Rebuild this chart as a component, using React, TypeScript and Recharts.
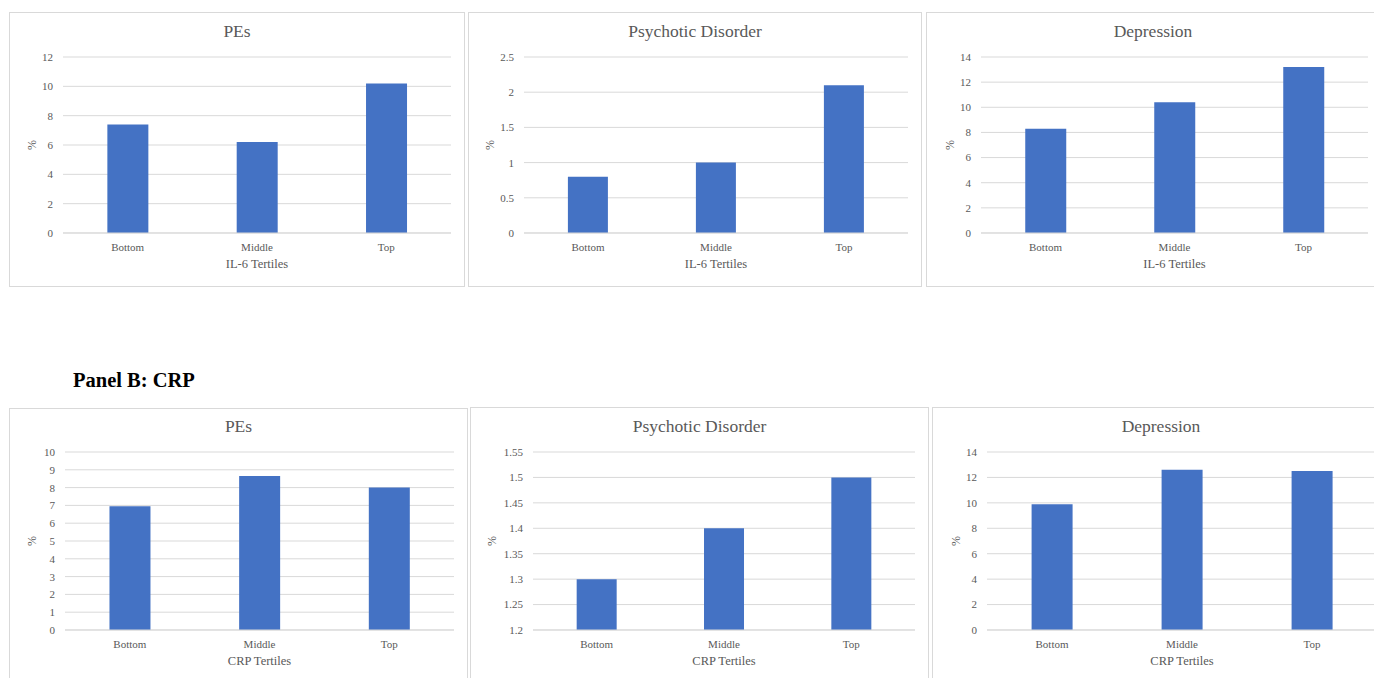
import { BarChart, Bar, XAxis, YAxis, CartesianGrid, Label } from 'recharts'

const tertiles = ['Bottom', 'Middle', 'Top']

const il6PEs = [7.4, 6.2, 10.2]
const il6Psychotic = [0.8, 1.0, 2.1]
const il6Depression = [8.3, 10.4, 13.2]

const crpPEs = [6.95, 8.65, 8.0]
const crpPsychotic = [1.3, 1.4, 1.5]
const crpDepression = [9.9, 12.6, 12.5]

const ticksPEsIl6 = [0, 2, 4, 6, 8, 10, 12]
const ticksPsychoticIl6 = [0, 0.5, 1, 1.5, 2, 2.5]
const ticksDepression = [0, 2, 4, 6, 8, 10, 12, 14]
const ticksPEsCrp = [0, 1, 2, 3, 4, 5, 6, 7, 8, 9, 10]
const ticksPsychoticCrp = [1.2, 1.25, 1.3, 1.35, 1.4, 1.45, 1.5, 1.55]

const FONT = '"Liberation Serif", "Times New Roman", serif'
const TEXT = '#595959'
const GRID = '#d9d9d9'
const BLUE = '#4472C4'
const X_AXIS_H = 40

interface PanelProps {
  box: { l: number; t: number; w: number; h: number }
  plot: { x1: number; x2: number; y1: number; y2: number }
  pctX: number
  titleBase: number
  title: string
  xTitle: string
  values: number[]
  ticks: number[]
}

function Panel({ box, plot, pctX, titleBase, title, xTitle, values, ticks }: Props) {
  const ox = box.l + 1
  const oy = box.t + 1
  const w = box.w - 2
  const h = box.h - 2
  const data = tertiles.map((c, i) => ({ cat: c, v: values[i] }))
  const titleSize = 17.5

  return (
    <div
      style={{
        position: 'absolute',
        left: box.l,
        top: box.t,
        width: box.w,
        height: box.h,
        boxSizing: 'border-box',
        border: `1px solid ${GRID}`,
        background: '#fff',
      }}
    >
      <div
        style={{
          position: 'absolute',
          left: 0,
          width: w,
          top: titleBase - titleSize * 0.8375 - oy,
          textAlign: 'center',
          fontSize: titleSize,
          lineHeight: 1,
          color: TEXT,
        }}
      >
        {title}
      </div>
      <div
        style={{
          position: 'absolute',
          left: pctX - ox,
          top: (plot.y1 + plot.y2) / 2 - oy,
          transform: 'translate(-50%, -50%) rotate(-90deg)',
          fontSize: 12,
          lineHeight: 1,
          color: TEXT,
        }}
      >
        %
      </div>
      <div style={{ position: 'absolute', left: 0, top: 0 }}>
        <BarChart
          width={w}
          height={h}
          data={data}
          barCategoryGap="34.3%"
          margin={{
            top: plot.y1 - oy,
            left: 0,
            right: ox + w - plot.x2,
            bottom: oy + h - plot.y2 - X_AXIS_H,
          }}
        >
          <CartesianGrid vertical={false} stroke={GRID} />
          <XAxis
            dataKey="cat"
            height={X_AXIS_H}
            tickLine={false}
            axisLine={{ stroke: GRID }}
            tickMargin={4}
            tick={{ fontSize: 11, fill: TEXT }}
          >
            <Label value={xTitle} position="insideBottom" offset={X_AXIS_H - 34.5} style={{ fontSize: 12.5, fill: TEXT }} />
          </XAxis>
          <YAxis
            width={plot.x1 - ox}
            domain={[ticks[0], ticks[ticks.length - 1]]}
            ticks={ticks}
            interval={0}
            axisLine={false}
            tickLine={false}
            tickMargin={4}
            tick={{ fontSize: 11, fill: TEXT }}
          />
          <Bar dataKey="v" fill={BLUE} isAnimationActive={false} />
        </BarChart>
      </div>
    </div>
  )
}

type Props = PanelProps

export default function App() {
  const topPlot = { y1: 57, y2: 233 }
  const botPlot = { y1: 452, y2: 630 }
  return (
    <div
      style={{
        position: 'absolute',
        left: 0,
        top: 0,
        width: 1374,
        height: 678,
        overflow: 'hidden',
        background: '#fff',
        fontFamily: FONT,
      }}
    >
      <Panel
        box={{ l: 9, t: 12, w: 456, h: 275 }}
        plot={{ x1: 63, x2: 451, ...topPlot }}
        pctX={32}
        titleBase={37.3}
        title="PEs"
        xTitle="IL-6 Tertiles"
        values={il6PEs}
        ticks={ticksPEsIl6}
      />
      <Panel
        box={{ l: 468, t: 12, w: 454, h: 275 }}
        plot={{ x1: 524, x2: 908, ...topPlot }}
        pctX={490}
        titleBase={37.3}
        title="Psychotic Disorder"
        xTitle="IL-6 Tertiles"
        values={il6Psychotic}
        ticks={ticksPsychoticIl6}
      />
      <Panel
        box={{ l: 926, t: 12, w: 454, h: 275 }}
        plot={{ x1: 981, x2: 1368, ...topPlot }}
        pctX={950}
        titleBase={37.3}
        title="Depression"
        xTitle="IL-6 Tertiles"
        values={il6Depression}
        ticks={ticksDepression}
      />

      <div
        style={{
          position: 'absolute',
          left: 73,
          top: 387 - 20.5 * 0.8375,
          fontSize: 20.5,
          fontWeight: 'bold',
          lineHeight: 1,
          color: '#000',
          whiteSpace: 'nowrap',
        }}
      >
        Panel B: CRP
      </div>

      <Panel
        box={{ l: 9, t: 408, w: 459, h: 282 }}
        plot={{ x1: 65, x2: 454, ...botPlot }}
        pctX={32}
        titleBase={432.5}
        title="PEs"
        xTitle="CRP Tertiles"
        values={crpPEs}
        ticks={ticksPEsCrp}
      />
      <Panel
        box={{ l: 470, t: 407, w: 459, h: 283 }}
        plot={{ x1: 533, x2: 915, ...botPlot }}
        pctX={492}
        titleBase={432.5}
        title="Psychotic Disorder"
        xTitle="CRP Tertiles"
        values={crpPsychotic}
        ticks={ticksPsychoticCrp}
      />
      <Panel
        box={{ l: 932, t: 407, w: 458, h: 283 }}
        plot={{ x1: 987, x2: 1377, ...botPlot }}
        pctX={956}
        titleBase={432.5}
        title="Depression"
        xTitle="CRP Tertiles"
        values={crpDepression}
        ticks={ticksDepression}
      />
    </div>
  )
}
